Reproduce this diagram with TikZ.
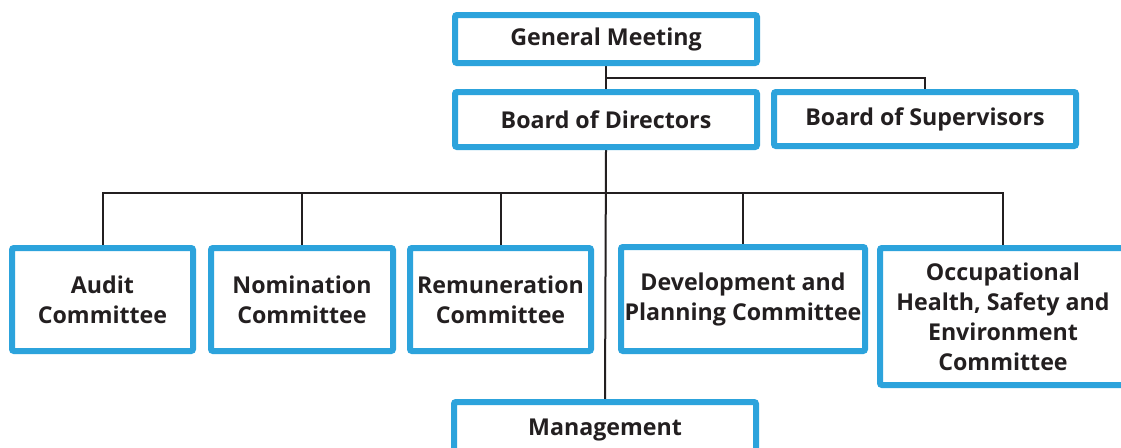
\documentclass[tikz,border=0pt]{standalone}
\usepackage{fontspec}
\setmainfont{Open Sans}
\usetikzlibrary{backgrounds}
\definecolor{boxblue}{RGB}{44,163,220}
\definecolor{ink}{RGB}{35,31,32}
\tikzset{
  orgbox/.style n args={2}{draw=boxblue, line width=6pt, rounded corners=2pt, fill=white,
    minimum width=#1pt, minimum height=#2pt, inner sep=0pt, align=center,
    text=ink, font=\fontsize{23.2}{30}\selectfont\bfseries},
  link/.style={draw=ink, line width=2pt}
}
\begin{document}
\begin{tikzpicture}[x=1pt,y=-1pt]
\clip (0,0) rectangle (1121,447);
\node[orgbox={302}{48}] (gm) at (606,39) {\raisebox{-2pt}{General Meeting}};
\node[orgbox={302}{55}] (bod) at (606,119.5) {\raisebox{-1pt}{Board of Directors}};
\node[orgbox={302}{54}] (bos) at (925,119) {\raisebox{-2pt}{Board of Supervisors}};
\node[orgbox={181}{103}] (aud) at (102.5,299.5) {Audit\\Committee};
\node[orgbox={182}{103}] (nom) at (302,299.5) {\raisebox{-3pt}{Nomination}\\\raisebox{-3pt}{Committee}};
\node[orgbox={181}{103}] (rem) at (500.5,299.5) {\raisebox{-3pt}{Remuneration}\\\raisebox{-3pt}{Committee}};
\node[orgbox={244}{104}] (dev) at (743,299) {\raisebox{-4pt}{Development and}\\\raisebox{-4pt}{Planning Committee}};
\node[orgbox={246}{137}] (ohse) at (1003,316.5) {Occupational\\Health, Safety and\\Environment\\Committee};
\node[orgbox={302}{55}] (mgmt) at (605,429.5) {\raisebox{-2pt}{Management}};
\coordinate (j1) at (606,78);
\coordinate (bus) at (606,193);
\begin{scope}[on background layer]
\fill[white] (0,0) rectangle (1121,447);
\draw[link] (gm.south) -- (bod.north);
\draw[link] (j1) -| (bos.north);
\draw[link] (bod.south) -- (mgmt.north);
\draw[link] (aud.north) |- (bus) -| (ohse.north);
\draw[link] (nom.north) -- (nom.north |- bus);
\draw[link] (rem.north) -- (rem.north |- bus);
\draw[link] (dev.north) -- (dev.north |- bus);
\end{scope}
\end{tikzpicture}
\end{document}
